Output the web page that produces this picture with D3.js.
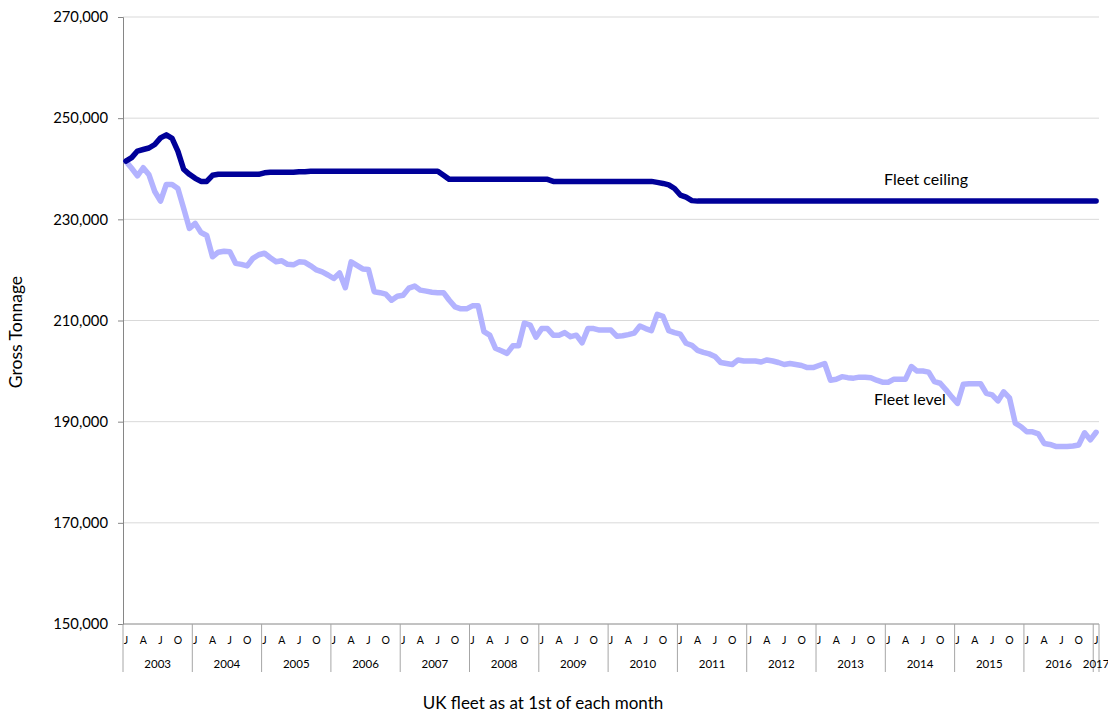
<!DOCTYPE html>
<html>
<head>
<meta charset="utf-8">
<script src="https://cdn.jsdelivr.net/npm/d3@7"></script>
<style>
  body { margin: 0; background: #fff; }
  text { font-family: Lato, "Open Sans", sans-serif; fill: #000; }
</style>
</head>
<body>
<div class="vis-linechart"></div>
<script>
// years on the category axis (Jan 2003 .. Jan 2017)
const years = [2003, 2004, 2005, 2006, 2007, 2008, 2009, 2010, 2011, 2012, 2013, 2014, 2015, 2016, 2017];
const monthLetters = ['J', '', '', 'A', '', '', 'J', '', '', 'O', '', ''];
const yTicks = [150000, 170000, 190000, 210000, 230000, 250000, 270000];

// Fleet ceiling, gross tonnage, one value per month
const fleetCeiling = [
  241500, 242200, 243500, 243800, 244100, 244800, 246100, 246700, 246000, 243500, 239900, 238900,
  238100, 237500, 237500, 238700, 238900, 238900, 238900, 238900, 238900, 238900, 238900, 238900,
  239200, 239300, 239300, 239300, 239300, 239300, 239400, 239400, 239500, 239500, 239500, 239500,
  239500, 239500, 239500, 239500, 239500, 239500, 239500, 239500, 239500, 239500, 239500, 239500,
  239500, 239500, 239500, 239500, 239500, 239500, 239500, 238700, 237900, 237900, 237900, 237900,
  237900, 237900, 237900, 237900, 237900, 237900, 237900, 237900, 237900, 237900, 237900, 237900,
  237900, 237900, 237500, 237500, 237500, 237500, 237500, 237500, 237500, 237500, 237500, 237500,
  237500, 237500, 237500, 237500, 237500, 237500, 237500, 237500, 237300, 237100, 236800, 236100,
  234800, 234400, 233700, 233600, 233600, 233600, 233600, 233600, 233600, 233600, 233600, 233600,
  233600, 233600, 233600, 233600, 233600, 233600, 233600, 233600, 233600, 233600, 233600, 233600,
  233600, 233600, 233600, 233600, 233600, 233600, 233600, 233600, 233600, 233600, 233600, 233600,
  233600, 233600, 233600, 233600, 233600, 233600, 233600, 233600, 233600, 233600, 233600, 233600,
  233600, 233600, 233600, 233600, 233600, 233600, 233600, 233600, 233600, 233600, 233600, 233600,
  233600, 233600, 233600, 233600, 233600, 233600, 233600, 233600, 233600, 233600, 233600, 233600,
  233600
];

// Fleet level, gross tonnage, one value per month
const fleetLevel = [
  241500, 240100, 238600, 240200, 238800, 235500, 233600, 236900, 236900, 236100, 232200, 228200,
  229200, 227400, 226800, 222600, 223500, 223700, 223600, 221300, 221100, 220800, 222300, 223000,
  223300, 222400, 221600, 221800, 221100, 221000, 221600, 221500, 220800, 220000, 219600, 219000,
  218300, 219400, 216500, 221600, 220900, 220200, 220100, 215700, 215500, 215200, 214000, 214800,
  215000, 216400, 216800, 216000, 215800, 215600, 215500, 215500, 214000, 212700, 212300, 212300,
  212900, 212900, 207800, 207100, 204500, 204000, 203500, 205000, 205000, 209500, 209100, 206700,
  208400, 208400, 207100, 207100, 207600, 206800, 207100, 205600, 208400, 208400, 208100, 208100,
  208100, 206900, 207000, 207200, 207500, 208900, 208400, 208000, 211200, 210800, 208000, 207600,
  207300, 205500, 205100, 204100, 203700, 203400, 202900, 201700, 201500, 201300, 202200, 202000,
  202000, 202000, 201800, 202200, 202000, 201700, 201300, 201500, 201300, 201100, 200700, 200700,
  201100, 201500, 198200, 198400, 198900, 198700, 198600, 198800, 198800, 198700, 198200, 197800,
  197800, 198400, 198400, 198400, 200900, 200000, 200000, 199800, 197900, 197600, 196300, 194900,
  193600, 197400, 197500, 197500, 197500, 195600, 195300, 194100, 195900, 194700, 189700, 189000,
  188000, 188000, 187600, 185700, 185500, 185100, 185100, 185100, 185200, 185400, 187800, 186400,
  187900
];

// build the month categories
const months = [];
years.forEach(yr => {
  const n = yr === 2017 ? 1 : 12;
  for (let m = 0; m < n; m++) months.push({ year: yr, m: m, key: yr + '-' + m });
});

const width = 1108, height = 715;
const plot = { left: 123, right: 1099, top: 17, bottom: 624 };

const svg = d3.select(".vis-linechart")
  .append("svg")
    .attr("width", width)
    .attr("height", height);

const x = d3.scaleBand()
  .domain(months.map(d => d.key))
  .range([plot.left, plot.right])
  .padding(0);
const bw = x.bandwidth();

const y = d3.scaleLinear()
  .domain([150000, 270000])
  .range([plot.bottom, plot.top]);

// gridlines
svg.append("g")
  .selectAll("line")
  .data(yTicks.filter(d => d > 150000))
  .enter()
  .append("line")
    .attr("x1", plot.left)
    .attr("x2", plot.right)
    .attr("y1", d => y(d))
    .attr("y2", d => y(d))
    .attr("stroke", "#d9d9d9")
    .attr("stroke-width", 1);

// y axis
const yAxis = svg.append("g")
  .attr("transform", "translate(" + plot.left + ",0)")
  .call(d3.axisLeft(y).tickValues(yTicks).tickSize(5).tickPadding(10).tickFormat(d3.format(",")));
yAxis.select(".domain").attr("stroke", "#868686");
yAxis.selectAll(".tick line").attr("stroke", "#868686");
yAxis.selectAll(".tick text")
  .style("font-family", "Lato, sans-serif")
  .style("font-size", "14.8px")
  .attr("fill", "#000");

// x axis line
svg.append("line")
  .attr("x1", plot.left).attr("x2", plot.right)
  .attr("y1", plot.bottom).attr("y2", plot.bottom)
  .attr("stroke", "#868686");

// month letters
svg.append("g")
  .selectAll("text")
  .data(months.filter(d => monthLetters[d.m] !== ''))
  .enter()
  .append("text")
    .attr("x", d => x(d.key) + bw / 2)
    .attr("y", 644)
    .attr("text-anchor", "middle")
    .style("font-size", "10.5px")
    .text(d => monthLetters[d.m]);

// year separators and labels
const yearStarts = years.map(yr => x(yr + '-0'));
svg.append("g")
  .selectAll("line")
  .data(yearStarts.concat([plot.right]))
  .enter()
  .append("line")
    .attr("x1", d => d).attr("x2", d => d)
    .attr("y1", plot.bottom).attr("y2", 672)
    .attr("stroke", "#a6a6a6");

svg.append("g")
  .selectAll("text")
  .data(years)
  .enter()
  .append("text")
    .attr("x", (d, i) => {
      const n = d === 2017 ? 1 : 12;
      return yearStarts[i] + n * bw / 2;
    })
    .attr("y", 668)
    .attr("text-anchor", "middle")
    .style("font-size", "11.5px")
    .text(d => d);

// lines
const line = d3.line()
  .x((d, i) => x(months[i].key) + bw / 2)
  .y(d => y(d));

svg.append("path")
  .datum(fleetLevel)
  .attr("fill", "none")
  .attr("stroke", "#b3b3ff")
  .attr("stroke-width", 5.5)
  .attr("stroke-linejoin", "round")
  .attr("stroke-linecap", "round")
  .attr("d", line);

svg.append("path")
  .datum(fleetCeiling)
  .attr("fill", "none")
  .attr("stroke", "#000099")
  .attr("stroke-width", 5.5)
  .attr("stroke-linejoin", "round")
  .attr("stroke-linecap", "round")
  .attr("d", line);

// series labels
svg.append("text")
  .attr("x", 884).attr("y", 185)
  .style("font-size", "16px")
  .text("Fleet ceiling");

svg.append("text")
  .attr("x", 874).attr("y", 405)
  .style("font-size", "16px")
  .text("Fleet level");

// axis titles
svg.append("text")
  .attr("transform", "translate(22,332) rotate(-90)")
  .attr("text-anchor", "middle")
  .style("font-size", "17.5px")
  .text("Gross Tonnage");

svg.append("text")
  .attr("x", 543).attr("y", 709)
  .attr("text-anchor", "middle")
  .style("font-size", "17px")
  .text("UK fleet as at 1st of each month");
</script>
</body>
</html>
